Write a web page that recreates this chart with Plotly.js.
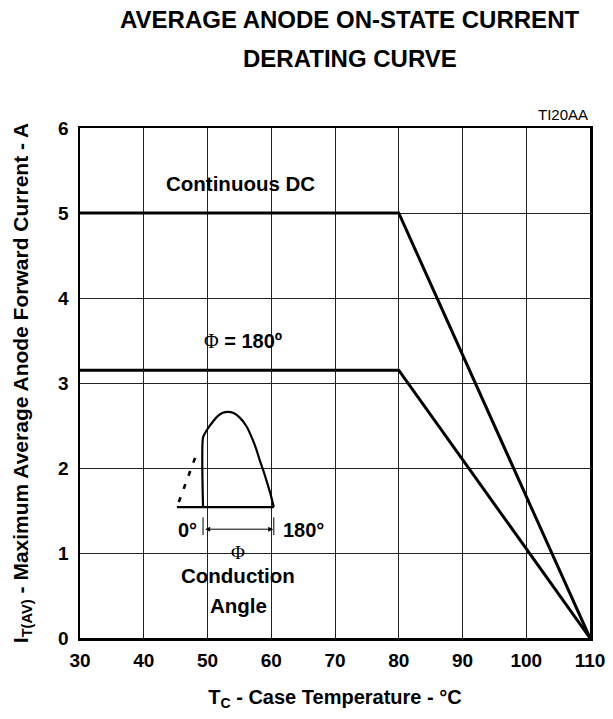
<!DOCTYPE html>
<html>
<head>
<meta charset="utf-8">
<script src="https://cdn.plot.ly/plotly-3.0.1.min.js"></script>
<style>html,body{margin:0;padding:0;background:#fff;}#chart{width:613px;height:719px;}</style>
</head>
<body>
<div id="chart"></div>
<script>
// Derating curves
const dcTemp = [30, 80, 110];
const dcCurrent = [5.0, 5.0, 0];
const c180Temp = [30, 80, 110];
const c180Current = [3.15, 3.15, 0];

// Inset sketch (conduction-angle waveform)
const insetBaseX = [45.2, 60.4];
const insetBaseY = [1.54, 1.54];
const insetWaveX = [49.3, 49.3, 50.1, 50.9, 51.6, 52.4, 53.2, 54.0, 55.1, 56.2, 57.1, 57.7, 58.2, 58.8, 59.3, 59.9, 60.4];
const insetWaveY = [1.54, 2.36, 2.47, 2.55, 2.61, 2.65, 2.66, 2.65, 2.59, 2.48, 2.33, 2.21, 2.09, 1.96, 1.84, 1.69, 1.54];
const insetDotX = [45.5, 48.5];
const insetDotY = [1.60, 2.21];
const insetTickLX = [49.3, 49.3];
const insetTickRX = [60.4, 60.4];
const insetTickY = [1.21, 1.42];

const xTicks = [30, 40, 50, 60, 70, 80, 90, 100, 110];
const yTicks = [0, 1, 2, 3, 4, 5, 6];

const black = '#000';
const traces = [
  {x: dcTemp, y: dcCurrent, mode: 'lines', line: {color: black, width: 3}, hoverinfo: 'skip'},
  {x: c180Temp, y: c180Current, mode: 'lines', line: {color: black, width: 3}, hoverinfo: 'skip'},
  {x: insetBaseX, y: insetBaseY, mode: 'lines', line: {color: black, width: 2.2}, hoverinfo: 'skip'},
  {x: insetWaveX, y: insetWaveY, mode: 'lines', line: {color: black, width: 2.2, shape: 'spline', smoothing: 0.5}, hoverinfo: 'skip'},
  {x: insetDotX, y: insetDotY, mode: 'lines', line: {color: black, width: 2.6, dash: '5px,9px'}, hoverinfo: 'skip'},
  {x: insetTickLX, y: insetTickY, mode: 'lines', line: {color: black, width: 1}, hoverinfo: 'skip'},
  {x: insetTickRX, y: insetTickY, mode: 'lines', line: {color: black, width: 1}, hoverinfo: 'skip'}
];

const font = 'Liberation Sans, Arial, Helvetica, sans-serif';
const serif = 'Liberation Serif, Times New Roman, serif';

function ann(x, y, text, size, fam) {
  return {x: x, y: y, xref: 'x', yref: 'y', text: text, showarrow: false,
          font: {family: fam || font, size: size || 20, color: black}};
}

const layout = {
  width: 613, height: 719,
  margin: {l: 80, r: 23, t: 128, b: 81},
  paper_bgcolor: '#fff', plot_bgcolor: '#fff',
  showlegend: false,
  xaxis: {
    range: [30, 110], tickvals: xTicks, ticktext: xTicks.map(String),
    showgrid: true, gridcolor: '#222', gridwidth: 1,
    showline: true, linecolor: black, linewidth: 2.5, mirror: true,
    zeroline: false, ticks: '', ticklen: 0, ticklabelstandoff: 4,
    tickfont: {family: font, size: 19, color: black, weight: 'bold'},
    title: {text: '<b>T<sub>C</sub> - Case Temperature - °C</b>', font: {family: font, size: 20, color: black}, standoff: 20}
  },
  yaxis: {
    range: [0, 6], tickvals: yTicks, ticktext: yTicks.map(String),
    showgrid: true, gridcolor: '#222', gridwidth: 1,
    showline: true, linecolor: black, linewidth: 2.5, mirror: true,
    zeroline: false, ticks: '', ticklen: 0, ticklabelstandoff: 5,
    tickfont: {family: font, size: 19, color: black, weight: 'bold'},
    title: {text: '<b>I<sub>T(AV)</sub> - Maximum Average Anode Forward Current - A</b>', font: {family: font, size: 21, color: black}, standoff: 24}
  },
  annotations: [
    {x: 0.529, y: 1.2118, xref: 'paper', yref: 'paper', yanchor: 'middle', text: '<b>AVERAGE ANODE ON-STATE CURRENT</b>', showarrow: false,
     font: {family: font, size: 24, color: black}},
    {x: 0.529, y: 1.137, xref: 'paper', yref: 'paper', yanchor: 'middle', text: '<b>DERATING CURVE</b>', showarrow: false,
     font: {family: font, size: 24, color: black}},
    ann(55.1, 5.35, '<b>Continuous DC</b>', 20.5),
    {x: 55.6, y: 3.49, xref: 'x', yref: 'y', showarrow: false,
     text: '<span style="font-family:' + serif + ';font-weight:normal">Φ</span><b> = 180º</b>',
     font: {family: font, size: 20, color: black}},
    ann(46.8, 1.27, '<b>0°</b>', 20),
    ann(65.0, 1.27, '<b>180°</b>', 20),
    ann(54.8, 1.01, 'Φ', 19, serif),
    ann(54.8, 0.74, '<b>Conduction</b>', 20.5),
    ann(54.8, 0.38, '<b>Angle</b>', 20.5),
    {x: 60.3, y: 1.28, ax: 49.4, ay: 1.28, xref: 'x', yref: 'y', axref: 'x', ayref: 'y', text: '', showarrow: true,
     arrowhead: 2, arrowside: 'end+start', arrowsize: 1, arrowwidth: 1, arrowcolor: black},
    {x: 1, y: 1, xref: 'paper', yref: 'paper', xanchor: 'right', yanchor: 'bottom', yshift: 3, text: 'TI20AA', showarrow: false,
     font: {family: font, size: 15, color: black}}
  ]
};

Plotly.newPlot('chart', traces, layout, {displayModeBar: false, staticPlot: true});
</script>
</body>
</html>
